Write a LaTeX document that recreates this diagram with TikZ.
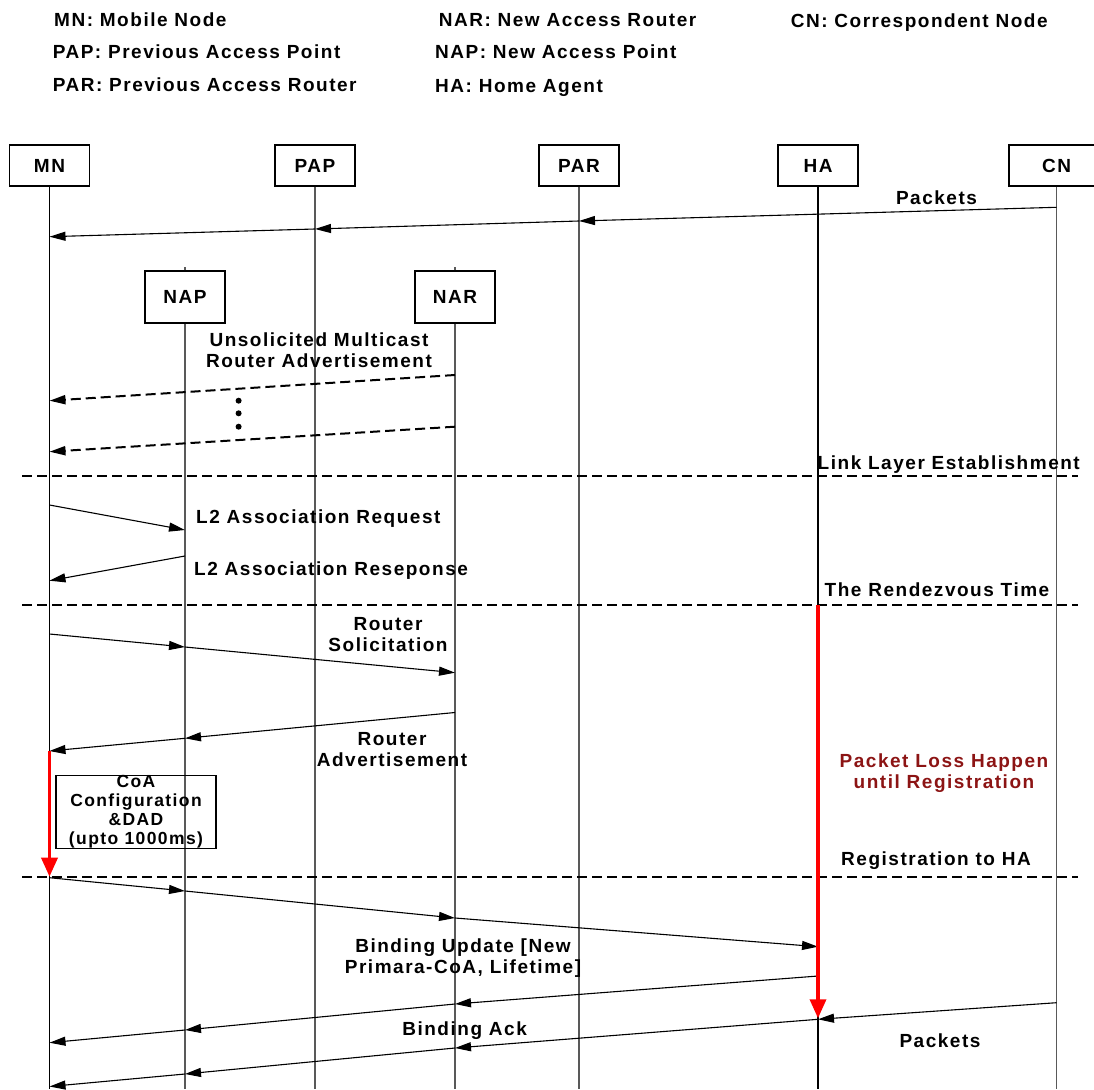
\documentclass[tikz,border=0pt]{standalone}
\usepackage{fontspec}
\newfontfamily\diafont{Liberation Sans}[LetterSpace=8]
\usetikzlibrary{arrows.meta}
\definecolor{lossred}{RGB}{140,20,20}
\begin{document}
\begin{tikzpicture}[x=1pt, y=-1pt, inner sep=0pt, font=\diafont\bfseries\fontsize{19}{21}\selectfont,
      >={Triangle[length=16pt,width=9pt]},
      ent/.style={draw, line width=1.2pt, fill=white, minimum width=80pt, minimum height=41pt},
      life/.style={line width=1.5pt, black!65},
      msg/.style={->, line width=1.1pt},
      dmsg/.style={->, line width=2pt, dash pattern=on 10pt off 5pt},
      sep/.style={line width=2pt, dash pattern=on 10pt off 5pt},
      lost/.style={-{Triangle[length=19pt,width=16pt]}, line width=3.5pt, red}]
    \useasboundingbox (0,0) rectangle (1094,1089);
    % legend
    \node[anchor=base west] (kMN) at (54,27) {MN: Mobile Node};
    \node[anchor=base west] (kPAP) at (52.6,58.2) {PAP: Previous Access Point};
    \node[anchor=base west] (kPAR) at (52.6,91.8) {PAR: Previous Access Router};
    \node[anchor=base west] (kNAR) at (438.6,27) {NAR: New Access Router};
    \node[anchor=base west] (kNAP) at (435,58.2) {NAP: New Access Point};
    \node[anchor=base west] (kHA) at (435,92.3) {HA: Home Agent};
    \node[anchor=base west] (kCN) at (790.6,27.5) {CN: Correspondent Node};
    % entities and lifelines
    \node[ent] (MN) at (49.5,165.5) {MN};
    \node[ent] (PAP) at (315,165.5) {PAP};
    \node[ent] (PAR) at (579,165.5) {PAR};
    \node[ent] (HA) at (818,165.5) {HA};
    \node[ent, minimum width=95pt] (CN) at (1056.5,165.5) {CN};
    \node[ent, minimum height=52pt] (NAP) at (185,297) {NAP};
    \node[ent, minimum height=52pt] (NAR) at (455,297) {NAR};
    \foreach \n in {PAP,PAR,CN,NAP,NAR} {\draw[life] (\n.south) -- (\n |- 0,1089);}
    \foreach \n in {NAP,NAR} {\draw[life] (\n.north) -- ++(0,-3);}
    \foreach \n in {MN,HA} {\draw[life, black, line width=1.3pt] (\n.south) -- (\n |- 0,1089);}
    % packets before handover
    \node[anchor=base] (lPk1) at (936.5,204.8) {Packets};
    \draw[msg] (CN |- 0,207.3) -- (PAR |- 0,221);
    \draw[msg] (PAR |- 0,221) -- (PAP |- 0,229);
    \draw[msg] (PAP |- 0,229) -- (MN |- 0,236.7);
    % unsolicited advertisements
    \node[align=center] (lUMRA) at (319,350.3) {Unsolicited Multicast\\Router Advertisement};
    \draw[dmsg] (NAR |- 0,375) -- (MN |- 0,400.7);
    \foreach \y in {400.7,413.3,426.7} {\fill (238.6,\y) circle (3pt);}
    \draw[dmsg] (NAR |- 0,426.7) -- (MN |- 0,451.7);
    \draw[sep] (22,476) -- (1078,476);
    \node[anchor=base east] (lLink) at (1080,469.8) {Link Layer Establishment};
    % layer 2 association
    \draw[msg] (MN |- 0,505) -- (NAP |- 0,530);
    \node[anchor=base west] (lReq) at (196,523.2) {L2 Association Request};
    \draw[msg] (NAP |- 0,556) -- (MN |- 0,580.7);
    \node[anchor=base west] (lResp) at (194,575.5) {L2 Association Reseponse};
    \draw[sep] (22,605.3) -- (1078,605.3);
    \node[anchor=base] (lRdv) at (937,596.5) {The Rendezvous Time};
    % router discovery
    \draw[msg] (MN |- 0,634) -- (NAP |- 0,647);
    \draw[msg] (NAP |- 0,647) -- (NAR |- 0,672.7);
    \node[align=center] (lRS) at (388,635) {Router\\Solicitation};
    \draw[msg] (NAR |- 0,712.5) -- (NAP |- 0,738.3);
    \draw[msg] (NAP |- 0,738.3) -- (MN |- 0,751);
    \node[align=center] (lRA) at (392,749.7) {Router\\Advertisement};
    \node[draw, line width=1.2pt, minimum width=160pt, minimum height=73pt, align=center,
          font=\diafont\bfseries\fontsize{17.5}{19.1}\selectfont] (coa) at (136,811.8) {CoA\\Configuration\\\&DAD\\(upto 1000ms)};
    \node[align=center, text=lossred] (lLoss) at (944,773) {Packet Loss Happen\\until Registration};
    \draw[sep] (22,876.7) -- (1078,876.7);
    \node[anchor=base] (lReg) at (936,865.8) {Registration to HA};
    % registration with the home agent
    \draw[msg] (MN |- 0,877.7) -- (NAP |- 0,891);
    \draw[msg] (NAP |- 0,891) -- (NAR |- 0,918);
    \draw[msg] (NAR |- 0,918) -- (HA |- 0,946.7);
    \node[align=center] (lBU) at (463,958) {Binding Update [New\\Primara-CoA, Lifetime]};
    \draw[msg] (HA |- 0,976) -- (NAR |- 0,1004);
    \draw[msg] (NAR |- 0,1004) -- (NAP |- 0,1030);
    \draw[msg] (NAP |- 0,1030) -- (MN |- 0,1042.7);
    \node[anchor=base] (lBA) at (464.6,1035.8) {Binding Ack};
    \draw[msg] (CN |- 0,1002.7) -- (HA |- 0,1019.3);
    \draw[msg] (HA |- 0,1019.3) -- (NAR |- 0,1048);
    \draw[msg] (NAR |- 0,1048) -- (NAP |- 0,1074);
    \draw[msg] (NAP |- 0,1074) -- (MN |- 0,1086.5);
    \node[anchor=base] (lPk2) at (940,1047.5) {Packets};
    % loss periods
    \draw[lost] (MN |- 0,751) -- (MN |- 0,876.7);
    \draw[lost] (HA |- 0,605.3) -- (HA |- 0,1018.3);
  \end{tikzpicture}
\end{document}
